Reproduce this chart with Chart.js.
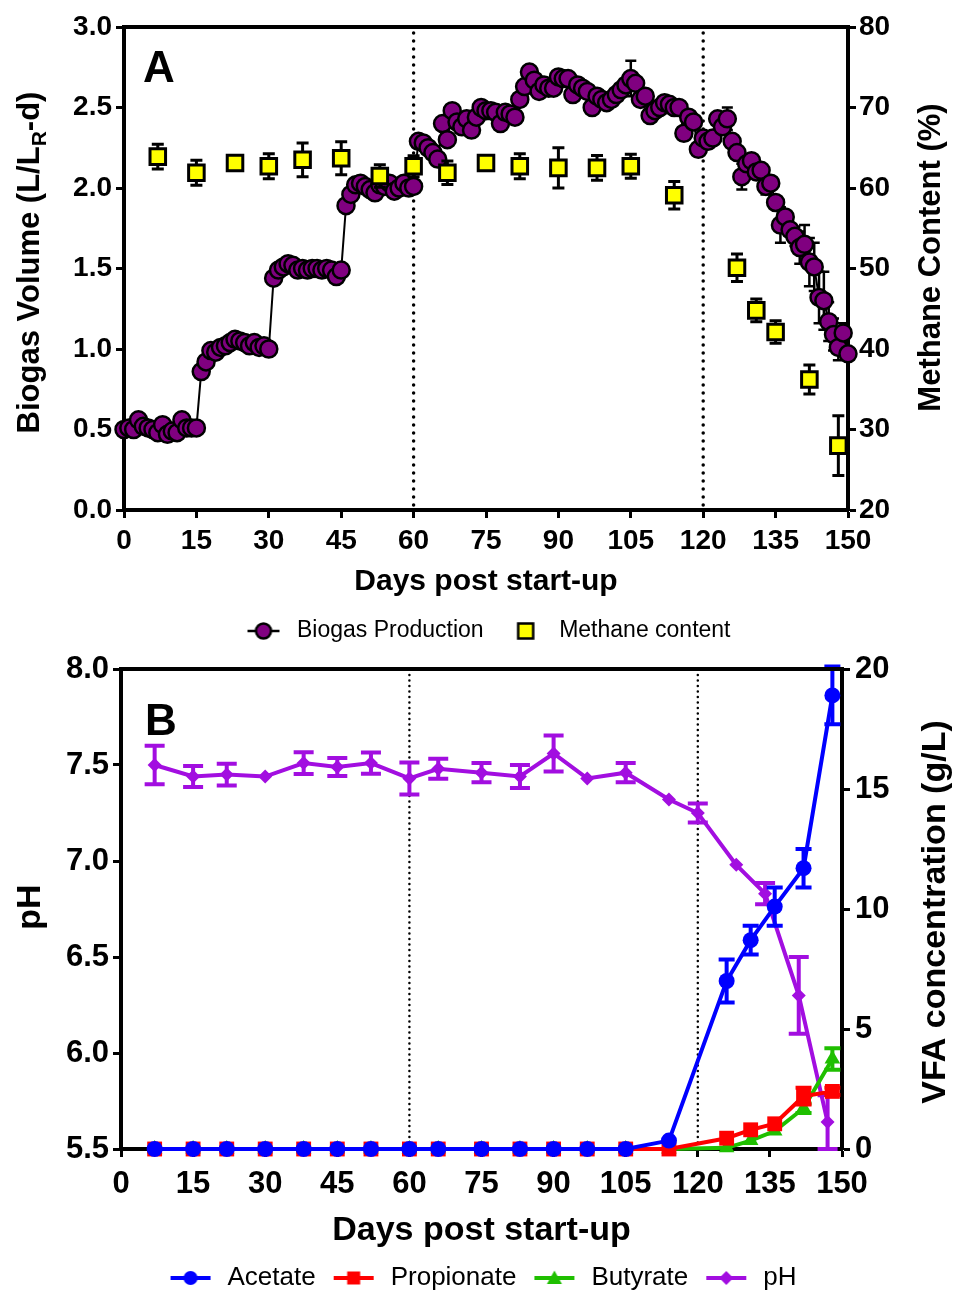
<!DOCTYPE html>
<html>
<head>
<meta charset="utf-8">
<script src="https://cdn.jsdelivr.net/npm/chart.js@4.4.1/dist/chart.umd.min.js"></script>
<style>
  html, body { margin: 0; padding: 0; background: #fff; overflow: hidden; }
  .panel { position: absolute; left: 0; }
  #panelA { top: 0; }
  #panelB { top: 640px; }
</style>
</head>
<body>
<div class="panel" id="panelA"><canvas id="chartA" width="954" height="660"></canvas></div>
<div class="panel" id="panelB"><canvas id="chartB" width="954" height="665"></canvas></div>
<script>
const FONT   = "'Liberation Sans', Arial, Helvetica, sans-serif";
const PURPLE = '#800080';
const YELLOW = '#ffff00';
const BLUE   = '#0000ff';
const RED    = '#ff0000';
const GREEN  = '#1fbf00';
const VIOLET = '#a20ee0';

// ---- panel A: daily biogas volume + methane content ----
const biogasDays = [
  0, 1, 2, 3, 4, 5, 6, 7, 8, 9, 10, 11, 12, 13, 14, 15,
  16, 17, 18, 19, 20, 21, 22, 23, 24, 25, 26, 27, 28, 29, 30,
  31, 32, 33, 34, 35, 36, 37, 38, 39, 40, 41, 42, 43, 44, 45,
  46, 47, 48, 49, 50, 51, 52, 53, 54, 55, 56, 57, 58, 59, 60,
  61, 62, 63, 64, 65, 66, 67, 68, 69, 70, 71, 72, 73, 74, 75,
  76, 77, 78, 79, 80, 81, 82, 83, 84, 85, 86, 87, 88, 89, 90,
  91, 92, 93, 94, 95, 96, 97, 98, 99, 100, 101, 102, 103, 104, 105,
  106, 107, 108, 109, 110, 111, 112, 113, 114, 115, 116, 117, 118, 119, 120,
  121, 122, 123, 124, 125, 126, 127, 128, 129, 130, 131, 132, 133, 134, 135,
  136, 137, 138, 139, 140, 141, 142, 143, 144, 145, 146, 147, 148, 149, 150,
];
const biogasVals = [
  0.50, 0.51, 0.50, 0.56, 0.52, 0.51, 0.50, 0.48, 0.53, 0.47, 0.49, 0.48, 0.56, 0.51, 0.51, 0.51,
  0.86, 0.92, 0.99, 0.98, 1.01, 1.02, 1.04, 1.06, 1.05, 1.04, 1.02, 1.04, 1.01, 1.02, 1.00,
  1.44, 1.49, 1.51, 1.53, 1.52, 1.49, 1.50, 1.49, 1.50, 1.50, 1.49, 1.50, 1.49, 1.45, 1.49,
  1.89, 1.96, 2.02, 2.03, 2.01, 1.99, 1.97, 2.02, 2.01, 2.03, 1.98, 2.00, 2.03, 2.00, 2.01,
  2.29, 2.28, 2.25, 2.22, 2.18, 2.40, 2.30, 2.48, 2.41, 2.38, 2.43, 2.36, 2.44, 2.50, 2.48,
  2.48, 2.47, 2.40, 2.47, 2.46, 2.44, 2.55, 2.63, 2.72, 2.67, 2.60, 2.64, 2.62, 2.62, 2.69,
  2.68, 2.68, 2.58, 2.64, 2.62, 2.60, 2.50, 2.57, 2.55, 2.53, 2.55, 2.58, 2.61, 2.64, 2.68,
  2.65, 2.55, 2.57, 2.45, 2.48, 2.50, 2.53, 2.52, 2.50, 2.50, 2.34, 2.44, 2.41, 2.24, 2.31,
  2.29, 2.31, 2.43, 2.38, 2.43, 2.29, 2.22, 2.07, 2.15, 2.17, 2.10, 2.11, 2.01, 2.03, 1.91,
  1.77, 1.82, 1.74, 1.70, 1.63, 1.65, 1.54, 1.51, 1.32, 1.30, 1.17, 1.09, 1.01, 1.10, 0.97,
];
const biogasErrDays = [105, 114, 125, 128, 133, 136, 139, 140, 141, 142, 143, 144, 145, 146, 147, 148, 149];
const biogasErrVals = [0.11, 0.03, 0.07, 0.08, 0.05, 0.11, 0.06, 0.10, 0.12, 0.15, 0.15, 0.16, 0.18, 0.12, 0.10, 0.08, 0.06];

const methaneDays = [7, 15, 23, 30, 37, 45, 53, 60, 67, 75, 82, 90, 98, 105, 114, 127, 131, 135, 142, 148];
const methaneVals = [63.9, 61.9, 63.1, 62.7, 63.5, 63.7, 61.5, 62.7, 61.9, 63.1, 62.7, 62.5, 62.5, 62.7, 59.1, 50.1, 44.8, 42.1, 36.2, 28.0];
const methaneErr  = [1.55, 1.55, 0.4, 1.55, 2.1, 2.05, 1.4, 1.3, 1.45, 0.4, 1.55, 2.5, 1.55, 1.5, 1.7, 1.7, 1.4, 1.4, 1.8, 3.7];

// ---- panel B: pH and volatile fatty acids ----
const phDays = [7, 15, 22, 30, 38, 45, 52, 60, 66, 75, 83, 90, 97, 105, 114, 120, 128, 134, 141, 147];
const phVals = [7.50, 7.44, 7.45, 7.44, 7.51, 7.49, 7.51, 7.43, 7.48, 7.46, 7.44, 7.56, 7.43, 7.46, 7.32, 7.25, 6.98, 6.83, 6.30, 5.64];
const phErr  = [0.10, 0.055, 0.057, 0, 0.057, 0.047, 0.055, 0.083, 0.052, 0.05, 0.06, 0.094, 0, 0.05, 0, 0.05, 0, 0.055, 0.2, 0.14];

const vfaDays        = [7, 15, 22, 30, 38, 45, 52, 60, 66, 75, 83, 90, 97, 105, 114, 126, 131, 136, 142, 148];
const acetateVals    = [0, 0, 0, 0, 0, 0, 0, 0, 0, 0, 0, 0, 0, 0, 0.35, 7.0, 8.7, 10.1, 11.7, 18.9];
const acetateErr     = [0, 0, 0, 0, 0, 0, 0, 0, 0, 0, 0, 0, 0, 0, 0, 0.9, 0.6, 0.8, 0.8, 1.2];
const propionateVals = [0, 0, 0, 0, 0, 0, 0, 0, 0, 0, 0, 0, 0, 0, 0, 0.45, 0.8, 1.05, 2.2, 2.4];
const propionateErr  = [0, 0, 0, 0, 0, 0, 0, 0, 0, 0, 0, 0, 0, 0, 0, 0, 0, 0, 0.35, 0.15];
const butyrateVals   = [0, 0, 0, 0, 0, 0, 0, 0, 0, 0, 0, 0, 0, 0, 0, 0.05, 0.35, 0.75, 1.7, 3.75];
const butyrateErr    = [0, 0, 0, 0, 0, 0, 0, 0, 0, 0, 0, 0, 0, 0, 0, 0, 0, 0, 0.2, 0.45];

// ---- tick labels ----
const dayTicks     = [0, 15, 30, 45, 60, 75, 90, 105, 120, 135, 150];
const biogasTicks  = [0, 0.5, 1.0, 1.5, 2.0, 2.5, 3.0];
const methaneTicks = [20, 30, 40, 50, 60, 70, 80];
const phTicks      = [5.5, 6.0, 6.5, 7.0, 7.5, 8.0];
const vfaTicks     = [0, 5, 10, 15, 20];
const phaseMarks   = [60, 120];

const pts = (xs, ys) => xs.map((x, i) => ({ x, y: ys[i] }));
const errFor = (days, errDays, errVals) => days.map((d) => {
  const k = errDays.indexOf(d);
  return k < 0 ? 0 : errVals[k];
});

// vertical error bars, drawn just under each dataset's own line/markers
const errorBars = {
  id: 'errorBars',
  beforeDatasetDraw(chart, args) {
    const ds = chart.data.datasets[args.index];
    if (!ds.errors) return;
    const xs = chart.scales[args.meta.xAxisID];
    const ys = chart.scales[args.meta.yAxisID];
    const ctx = chart.ctx;
    const half = ds.errorCap / 2;
    ctx.save();
    ctx.strokeStyle = ds.errorColor;
    ctx.lineWidth = ds.errorWidth;
    ds.data.forEach((p, i) => {
      const e = ds.errors[i];
      if (!e) return;
      const x = xs.getPixelForValue(p.x);
      const t = ys.getPixelForValue(p.y + e);
      const b = ys.getPixelForValue(p.y - e);
      ctx.beginPath();
      ctx.moveTo(x, t); ctx.lineTo(x, b);
      ctx.moveTo(x - half, t); ctx.lineTo(x + half, t);
      ctx.moveTo(x - half, b); ctx.lineTo(x + half, b);
      ctx.stroke();
    });
    ctx.restore();
  },
};

function drawVertical(ctx, parts, cx, cy, size) {
  const main = `bold ${size}px ${FONT}`;
  const sub = `bold ${Math.round(size * 0.68)}px ${FONT}`;
  ctx.save();
  ctx.translate(cx, cy);
  ctx.rotate(-Math.PI / 2);
  ctx.fillStyle = '#000';
  ctx.textBaseline = 'middle';
  ctx.textAlign = 'left';
  let total = 0;
  const widths = parts.map((p) => {
    ctx.font = p.sub ? sub : main;
    const w = ctx.measureText(p.text).width;
    total += w;
    return w;
  });
  let x = -total / 2;
  parts.forEach((p, i) => {
    ctx.font = p.sub ? sub : main;
    ctx.fillText(p.text, x, p.sub ? size * 0.32 : 0);
    x += widths[i];
  });
  ctx.restore();
}

// box top edge, dotted phase lines, panel letter and side titles
const frame = {
  id: 'frame',
  beforeDatasetsDraw(chart, args, o) {
    const { ctx, chartArea: a, scales: { x } } = chart;
    ctx.save();
    ctx.strokeStyle = '#000';
    ctx.lineWidth = o.dotWidth;
    ctx.lineCap = 'round';
    ctx.setLineDash([0, o.dotGap]);
    phaseMarks.forEach((d) => {
      const px = x.getPixelForValue(d);
      ctx.beginPath();
      ctx.moveTo(px, a.top + 6);
      ctx.lineTo(px, a.bottom - 2);
      ctx.stroke();
    });
    ctx.restore();
  },
  afterDraw(chart, args, o) {
    const { ctx, chartArea: a } = chart;
    ctx.save();
    ctx.strokeStyle = '#000';
    ctx.lineWidth = 4;
    ctx.beginPath();
    ctx.moveTo(a.left - 2, a.top);
    ctx.lineTo(a.right + 2, a.top);
    ctx.stroke();
    ctx.fillStyle = '#000';
    ctx.font = `bold 44px ${FONT}`;
    ctx.textBaseline = 'alphabetic';
    ctx.fillText(o.letter, a.left + o.letterDx, a.top + o.letterDy);
    ctx.restore();
    const cy = (a.top + a.bottom) / 2;
    drawVertical(ctx, o.left, o.leftX, cy + o.leftDy, o.titleSize);
    drawVertical(ctx, o.right, o.rightX, cy + o.rightDy, o.titleSize);
  },
};

function legendSymbol(w, h, line, marker) {
  const c = document.createElement('canvas');
  c.width = w; c.height = h;
  const g = c.getContext('2d');
  const cx = w / 2, cy = h / 2;
  if (line) {
    g.strokeStyle = line.color;
    g.lineWidth = line.width;
    g.beginPath();
    g.moveTo(cx - line.len / 2, cy);
    g.lineTo(cx + line.len / 2, cy);
    g.stroke();
  }
  const r = marker.r;
  g.fillStyle = marker.fill;
  g.strokeStyle = marker.border || marker.fill;
  g.lineWidth = marker.borderWidth || 0;
  g.beginPath();
  if (marker.shape === 'circle') {
    g.arc(cx, cy, r, 0, Math.PI * 2);
  } else if (marker.shape === 'rect') {
    g.rect(cx - r, cy - r, 2 * r, 2 * r);
  } else if (marker.shape === 'triangle') {
    g.moveTo(cx, cy - r);
    g.lineTo(cx + r, cy + r * 0.8);
    g.lineTo(cx - r, cy + r * 0.8);
    g.closePath();
  } else {
    g.moveTo(cx, cy - r);
    g.lineTo(cx + r, cy);
    g.lineTo(cx, cy + r);
    g.lineTo(cx - r, cy);
    g.closePath();
  }
  g.fill();
  if (marker.borderWidth) g.stroke();
  return c;
}

function axis(o) {
  return {
    type: 'linear',
    position: o.position,
    min: o.ticks[0],
    max: o.ticks[o.ticks.length - 1],
    afterBuildTicks: (s) => { s.ticks = o.ticks.map((v) => ({ value: v })); },
    afterFit: (s) => {
      if (s.isHorizontal()) s.height = o.size; else s.width = o.size;
    },
    ticks: {
      color: '#000',
      font: { family: FONT, size: o.fontSize, weight: 'bold' },
      padding: o.pad,
      autoSkip: false,
      maxRotation: 0,
      callback: o.fmt || ((v) => String(v)),
    },
    grid: { drawOnChartArea: false, drawTicks: true, tickLength: 8, tickWidth: 3, tickColor: '#000' },
    border: { display: true, color: '#000', width: 4 },
    title: o.title
      ? { display: true, text: o.title, color: '#000', font: { family: FONT, size: o.titleSize, weight: 'bold' }, padding: { top: 0, bottom: 0 } }
      : { display: false },
  };
}

function legendOpts(fontSize, pad, boxW, items) {
  return {
    display: true,
    position: 'bottom',
    fullSize: false,
    labels: {
      usePointStyle: true,
      pointStyleWidth: boxW,
      padding: pad,
      color: '#000',
      font: { family: FONT, size: fontSize },
      generateLabels: () => items.map((it) => ({
        text: it.text, pointStyle: it.symbol, fontColor: '#000',
        fillStyle: 'transparent', strokeStyle: 'transparent', lineWidth: 0, hidden: false,
      })),
    },
  };
}

const fixed = { animation: false, responsive: false, events: [] };
const oneDecimal = (v) => Number(v).toFixed(1);

new Chart(document.getElementById('chartA'), {
  type: 'line',
  data: {
    datasets: [
      {
        label: 'Biogas Production',
        data: pts(biogasDays, biogasVals),
        yAxisID: 'y',
        order: 1,
        borderColor: '#000',
        borderWidth: 2,
        tension: 0,
        pointStyle: 'circle',
        pointRadius: 8.5,
        pointBackgroundColor: PURPLE,
        pointBorderColor: '#000',
        pointBorderWidth: 2.5,
        clip: false,
        errors: errFor(biogasDays, biogasErrDays, biogasErrVals),
        errorColor: '#000', errorWidth: 2.5, errorCap: 11,
      },
      {
        label: 'Methane content',
        data: pts(methaneDays, methaneVals),
        yAxisID: 'y1',
        order: 0,
        showLine: false,
        pointStyle: 'rect',
        pointRadius: 11,
        pointBackgroundColor: YELLOW,
        pointBorderColor: '#000',
        pointBorderWidth: 3,
        clip: false,
        errors: methaneErr,
        errorColor: '#000', errorWidth: 3, errorCap: 12,
      },
    ],
  },
  plugins: [errorBars, frame],
  options: {
    ...fixed,
    layout: { padding: { top: 27, left: 0, right: 0, bottom: 7.5 } },
    scales: {
      x: axis({ position: 'bottom', ticks: dayTicks, size: 89.5, fontSize: 28, pad: 6, title: 'Days post start-up', titleSize: 30 }),
      y: axis({ position: 'left', ticks: biogasTicks, size: 124, fontSize: 28, pad: 4, fmt: oneDecimal }),
      y1: axis({ position: 'right', ticks: methaneTicks, size: 106, fontSize: 28, pad: 3 }),
    },
    plugins: {
      tooltip: { enabled: false },
      legend: legendOpts(23, 20, 44, [
        { text: 'Biogas Production', symbol: legendSymbol(44, 24, { color: '#000', width: 2.5, len: 32 }, { shape: 'circle', r: 7.5, fill: PURPLE, border: '#000', borderWidth: 2.5 }) },
        { text: 'Methane content', symbol: legendSymbol(44, 24, null, { shape: 'rect', r: 7.5, fill: YELLOW, border: '#000', borderWidth: 2.5 }) },
      ]),
      frame: {
        dotWidth: 3.5, dotGap: 8, letter: 'A', letterDx: 19, letterDy: 55,
        titleSize: 31,
        left: [{ text: 'Biogas Volume (L/L' }, { text: 'R', sub: true }, { text: '-d)' }],
        leftX: 30, leftDy: -6,
        right: [{ text: 'Methane Content (%)' }],
        rightX: 931, rightDy: -11,
      },
    },
  },
});

new Chart(document.getElementById('chartB'), {
  type: 'line',
  data: {
    datasets: [
      {
        label: 'Acetate',
        data: pts(vfaDays, acetateVals),
        yAxisID: 'y1',
        borderColor: BLUE, borderWidth: 4, tension: 0,
        pointStyle: 'circle', pointRadius: 8,
        pointBackgroundColor: BLUE, pointBorderColor: BLUE, pointBorderWidth: 0,
        clip: false,
        errors: acetateErr, errorColor: BLUE, errorWidth: 4, errorCap: 16,
      },
      {
        label: 'Propionate',
        data: pts(vfaDays, propionateVals),
        yAxisID: 'y1',
        borderColor: RED, borderWidth: 4, tension: 0,
        pointStyle: 'rect', pointRadius: 10.5,
        pointBackgroundColor: RED, pointBorderColor: RED, pointBorderWidth: 0,
        clip: false,
        errors: propionateErr, errorColor: RED, errorWidth: 4, errorCap: 16,
      },
      {
        label: 'Butyrate',
        data: pts(vfaDays, butyrateVals),
        yAxisID: 'y1',
        borderColor: GREEN, borderWidth: 4, tension: 0,
        pointStyle: 'triangle', pointRadius: 9,
        pointBackgroundColor: GREEN, pointBorderColor: GREEN, pointBorderWidth: 0,
        clip: false,
        errors: butyrateErr, errorColor: GREEN, errorWidth: 4, errorCap: 16,
      },
      {
        label: 'pH',
        data: pts(phDays, phVals),
        yAxisID: 'y',
        borderColor: VIOLET, borderWidth: 4, tension: 0,
        pointStyle: 'rectRot', pointRadius: 7,
        pointBackgroundColor: VIOLET, pointBorderColor: VIOLET, pointBorderWidth: 0,
        clip: false,
        errors: phErr, errorColor: VIOLET, errorWidth: 4, errorCap: 20,
      },
    ],
  },
  plugins: [errorBars, frame],
  options: {
    ...fixed,
    layout: { padding: { top: 29, left: 0, right: 0, bottom: 4 } },
    scales: {
      x: axis({ position: 'bottom', ticks: dayTicks, size: 102, fontSize: 31, pad: 9, title: 'Days post start-up', titleSize: 34 }),
      y: axis({ position: 'left', ticks: phTicks, size: 121, fontSize: 31, pad: 4, fmt: oneDecimal }),
      y1: axis({ position: 'right', ticks: vfaTicks, size: 112, fontSize: 31, pad: 5 }),
    },
    plugins: {
      tooltip: { enabled: false },
      legend: legendOpts(26, 14, 48, [
        { text: 'Acetate', symbol: legendSymbol(48, 24, { color: BLUE, width: 4, len: 40 }, { shape: 'circle', r: 7, fill: BLUE }) },
        { text: 'Propionate', symbol: legendSymbol(48, 24, { color: RED, width: 4, len: 40 }, { shape: 'rect', r: 6.5, fill: RED }) },
        { text: 'Butyrate', symbol: legendSymbol(48, 24, { color: GREEN, width: 4, len: 40 }, { shape: 'triangle', r: 7.5, fill: GREEN }) },
        { text: 'pH', symbol: legendSymbol(48, 24, { color: VIOLET, width: 4, len: 40 }, { shape: 'diamond', r: 7, fill: VIOLET }) },
      ]),
      frame: {
        dotWidth: 2.5, dotGap: 5.5, letter: 'B', letterDx: 24, letterDy: 66,
        titleSize: 34,
        left: [{ text: 'pH' }],
        leftX: 31, leftDy: -2,
        right: [{ text: 'VFA concentration (g/L)' }],
        rightX: 936, rightDy: 3,
      },
    },
  },
});
</script>
</body>
</html>
